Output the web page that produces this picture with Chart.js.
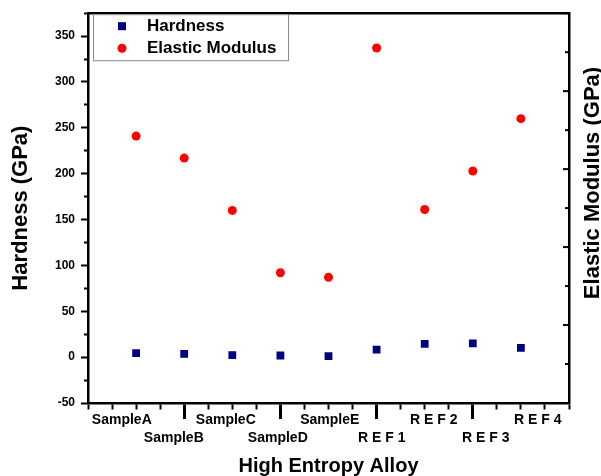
<!DOCTYPE html>
<html>
<head>
<meta charset="utf-8">
<title>Hardness and Elastic Modulus</title>
<script src="https://cdn.jsdelivr.net/npm/chart.js@4.4.1/dist/chart.umd.min.js"></script>
<style>
    body { margin: 0; background: #fff; }
    canvas { display: block; }
</style>
</head>
<body>
<canvas id="alloyChart" width="601" height="476"></canvas>
<script>
// alloys named along the bottom axis
const categories = ['SampleA', 'SampleB', 'SampleC', 'SampleD', 'SampleE', 'R E F 1', 'R E F 2', 'R E F 3', 'R E F 4'];
// where each alloy sits on the 0..10 x scale
const positions = [1, 2, 3, 4, 5, 6, 7, 8, 9];
const hardness = [4.3, 3.5, 2.2, 1.8, 1.0, 8.3, 14.5, 15.0, 10.0];
const elasticModulus = [241, 217, 160, 92, 87, 337, 161, 203, 260];
const yTickLabels = [-50, 0, 50, 100, 150, 200, 250, 300, 350];

const FONT = 'Liberation Sans, Arial, sans-serif';

// inward ticks on the right axis, its title (reads upwards) and the boxed legend
const frameExtras = {
    id: 'frameExtras',
    afterDraw(chart) {
        const { ctx, chartArea, scales } = chart;
        const right = scales.y2;
        ctx.save();
        ctx.strokeStyle = '#000';
        ctx.lineWidth = 2;
        right.ticks.forEach(t => {
            const y = right.getPixelForValue(t.value);
            const len = t.value % 2 === 0 ? 6 : 4;
            ctx.beginPath();
            ctx.moveTo(chartArea.right, y);
            ctx.lineTo(chartArea.right - len, y);
            ctx.stroke();
        });

        ctx.save();
        ctx.translate(chart.width - 8, 183);
        ctx.rotate(-Math.PI / 2);
        ctx.fillStyle = '#000';
        ctx.font = 'bold 22px ' + FONT;
        ctx.textAlign = 'center';
        ctx.textBaseline = 'middle';
        ctx.fillText('Elastic Modulus (GPa)', 0, 0);
        ctx.restore();

        // legend
        const lx = chartArea.left + 5, ly = chartArea.top + 1, lw = 195, lh = 46;
        ctx.fillStyle = '#fff';
        ctx.fillRect(lx, ly, lw, lh);
        ctx.strokeStyle = '#8c8c8c';
        ctx.lineWidth = 1;
        ctx.strokeRect(lx + 0.5, ly + 0.5, lw, lh);
        chart.data.datasets.forEach((ds, i) => {
            const y = ly + 12 + i * 22;
            ctx.fillStyle = ds.backgroundColor;
            if (ds.pointStyle === 'rect') {
                ctx.fillRect(lx + 25, y - 4, 8, 8);
            } else {
                ctx.beginPath();
                ctx.arc(lx + 29, y, 4.5, 0, Math.PI * 2);
                ctx.fill();
            }
            ctx.fillStyle = '#000';
            ctx.font = 'bold 17px ' + FONT;
            ctx.textAlign = 'left';
            ctx.textBaseline = 'middle';
            ctx.fillText(ds.label, lx + 54, y);
        });
        ctx.restore();
    }
};

const ctx = document.getElementById('alloyChart').getContext('2d');
new Chart(ctx, {
    type: 'scatter',
    data: {
        datasets: [{
            label: 'Hardness',
            data: positions.map((x, i) => ({ x: x, y: hardness[i] })),
            backgroundColor: '#000080',
            borderWidth: 0,
            pointStyle: 'rect',
            pointRadius: 5.5,
            pointHoverRadius: 5.5
        }, {
            label: 'Elastic Modulus',
            data: positions.map((x, i) => ({ x: x, y: elasticModulus[i] })),
            backgroundColor: '#ff0000',
            borderWidth: 0,
            pointStyle: 'circle',
            pointRadius: 4.5,
            pointHoverRadius: 4.5
        }]
    },
    options: {
        responsive: false,
        animation: false,
        layout: { padding: { top: 13, left: 0, right: 0, bottom: 0 } },
        plugins: {
            legend: { display: false },
            tooltip: { enabled: false }
        },
        scales: {
            x: {
                type: 'linear',
                position: 'bottom',
                weight: 0,
                min: 0,
                max: 10,
                afterFit: axis => { axis.height = 0; },
                border: { color: '#000', width: 2.5 },
                grid: {
                    drawOnChartArea: false,
                    tickLength: 16,
                    tickColor: '#000',
                    tickWidth: c => (c.tick && c.tick.value % 2 === 0 && c.tick.value > 0 && c.tick.value < 10) ? 3 : 2,
                    tickBorderDash: c => (c.tick && c.tick.value % 2 === 0 && c.tick.value > 0 && c.tick.value < 10) ? [] : [5, 40]
                },
                ticks: { display: false, stepSize: 0.5 }
            },
            xl: {
                type: 'linear',
                position: 'bottom',
                weight: 1,
                min: -0.65,
                max: 8.6,
                afterBuildTicks: axis => { axis.ticks = categories.map((c, i) => ({ value: i })); },
                afterFit: axis => { axis.height = 73; },
                border: { display: false },
                grid: { display: false },
                ticks: {
                    padding: 0,
                    maxRotation: 0,
                    autoSkip: false,
                    color: '#000',
                    font: { family: FONT, size: 14, weight: 'bold', lineHeight: 1.3 },
                    callback: v => (v % 2 === 1 ? ['', categories[v]] : categories[v])
                },
                title: {
                    display: true,
                    text: 'High Entropy Alloy',
                    color: '#000',
                    font: { family: FONT, size: 20, weight: 'bold', lineHeight: 1 },
                    padding: { top: 0, bottom: 0 }
                }
            },
            xt: {
                type: 'linear',
                position: 'top',
                min: 0,
                max: 10,
                afterFit: axis => { axis.height = 0; },
                border: { color: '#000', width: 2.5 },
                grid: { display: false },
                ticks: { display: false }
            },
            y: {
                type: 'linear',
                position: 'left',
                min: -50,
                max: 375,
                afterFit: axis => { axis.width = 88; },
                border: { color: '#000', width: 2.5 },
                grid: {
                    drawOnChartArea: false,
                    tickLength: 7,
                    tickColor: '#000',
                    tickWidth: 2,
                    tickBorderDash: c => (c.tick && c.tick.value % 50 === 0) ? [] : [0, 3, 4, 20]
                },
                ticks: {
                    stepSize: 25,
                    includeBounds: false,
                    padding: 6,
                    color: '#000',
                    font: { family: FONT, size: 12, weight: 'bold' },
                    callback: v => (yTickLabels.includes(v) ? v : '')
                },
                title: {
                    display: true,
                    text: 'Hardness (GPa)',
                    color: '#000',
                    font: { family: FONT, size: 22, weight: 'bold' },
                    padding: { top: 8, bottom: 0 }
                }
            },
            y2: {
                type: 'linear',
                position: 'right',
                min: 0,
                max: 10,
                afterFit: axis => { axis.width = 32; },
                border: { color: '#000', width: 2.5 },
                grid: { display: false },
                ticks: { display: false, stepSize: 1 }
            }
        }
    },
    plugins: [frameExtras]
});
</script>
</body>
</html>
